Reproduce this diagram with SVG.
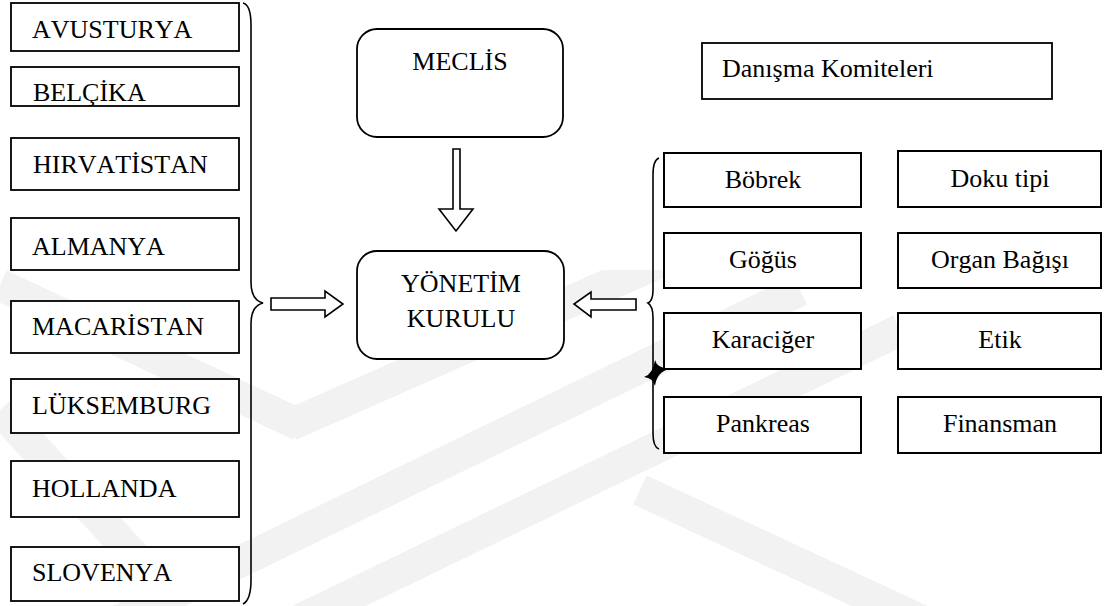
<svg xmlns="http://www.w3.org/2000/svg" width="1105" height="606" viewBox="0 0 1105 606">
<style>
.box{fill:#fff;stroke:#000;stroke-width:1.8}
.rbox{fill:#fff;stroke:#000;stroke-width:2}
.t{font-family:"Liberation Serif","Times New Roman",serif;font-size:26px;fill:#000;font-kerning:none}
.c{text-anchor:middle}
.arrow{fill:#fff;stroke:#000;stroke-width:1.6;stroke-linejoin:miter}
.brace{fill:none;stroke:#000;stroke-width:1.6}
.wm{stroke:#f2f2f2;stroke-width:32;fill:none}
</style>
<defs>
<clipPath id="wmclip"><rect x="0" y="270" width="1105" height="336"/></clipPath>
</defs>
<rect x="0" y="0" width="1105" height="606" fill="#fff"/>
<g id="watermark" clip-path="url(#wmclip)">
<line class="wm" x1="0" y1="285" x2="300" y2="425"/>
<line class="wm" x1="290" y1="425" x2="660" y2="262"/>
<line class="wm" x1="120" y1="620" x2="800" y2="290"/>
<line class="wm" x1="300" y1="620" x2="900" y2="330"/>
<line class="wm" x1="0" y1="410" x2="180" y2="606"/>
<line class="wm" x1="640" y1="490" x2="920" y2="620"/>
</g>
<g id="connectors">
<path class="brace" d="M243,3 Q251,5 251,25 L251,282 Q251,300 263,303 Q251,306 251,324 L251,580 Q251,600 243,604"/>
<path class="brace" d="M659,158 Q653,160 653,175 L653,290 Q653,301 648,303 Q653,306 653,318 L653,433 Q653,447 659,449"/>
<polygon class="arrow" points="271,298 325,298 325,291 343,304 325,317 325,310 271,310"/>
<polygon class="arrow" points="636,299 591,299 591,292 574,304 591,317 591,310 636,310"/>
<polygon class="arrow" points="453,149 460,149 460,209 473,209 456,231 439,209 453,209"/>
<path d="M655,360 Q657,368 669,369 Q657,372 655,386 Q653,378 644,377 Q653,374 655,360 Z" fill="#000"/>
</g>
<g id="n-avusturya"><rect class="box" x="11" y="3" width="228" height="48"/><text class="t" x="32" y="38">AVUSTURYA</text></g>
<g id="n-belcika"><rect class="box" x="11" y="67" width="228" height="39"/><text class="t" x="33" y="101">BELÇİKA</text></g>
<g id="n-hirvatistan"><rect class="box" x="11" y="138" width="228" height="52"/><text class="t" x="33" y="173">HIRVATİSTAN</text></g>
<g id="n-almanya"><rect class="box" x="11" y="218" width="228" height="52"/><text class="t" x="32" y="255">ALMANYA</text></g>
<g id="n-macaristan"><rect class="box" x="11" y="301" width="228" height="52"/><text class="t" x="32" y="335">MACARİSTAN</text></g>
<g id="n-luksemburg"><rect class="box" x="11" y="379" width="228" height="54"/><text class="t" x="32" y="414">LÜKSEMBURG</text></g>
<g id="n-hollanda"><rect class="box" x="11" y="461" width="228" height="56"/><text class="t" x="32" y="497">HOLLANDA</text></g>
<g id="n-slovenya"><rect class="box" x="11" y="547" width="228" height="54"/><text class="t" x="32" y="581">SLOVENYA</text></g>
<g id="n-meclis"><rect class="box" x="357" y="29" width="206" height="108" rx="20" ry="20"/><text class="t c" x="460" y="70">MECLİS</text></g>
<g id="n-yonetim"><rect class="box" x="357" y="251" width="207" height="108" rx="20" ry="20"/><text class="t c" x="461" y="292">YÖNETİM</text><text class="t c" x="461" y="327">KURULU</text></g>
<g id="n-danisma"><rect class="box" x="702" y="43" width="350" height="56"/><text class="t" x="722" y="77">Danışma Komiteleri</text></g>
<g id="n-bobrek"><rect class="rbox" x="664" y="153" width="197" height="54"/><text class="t c" x="763" y="188">Böbrek</text></g>
<g id="n-doku"><rect class="rbox" x="898" y="151" width="203" height="56"/><text class="t c" x="1000" y="187">Doku tipi</text></g>
<g id="n-gogus"><rect class="rbox" x="664" y="233" width="197" height="55"/><text class="t c" x="763" y="268">Göğüs</text></g>
<g id="n-organ"><rect class="rbox" x="898" y="233" width="203" height="55"/><text class="t c" x="1000" y="268">Organ Bağışı</text></g>
<g id="n-karaciger"><rect class="rbox" x="664" y="313" width="197" height="56"/><text class="t c" x="763" y="348">Karaciğer</text></g>
<g id="n-etik"><rect class="rbox" x="898" y="313" width="203" height="56"/><text class="t c" x="1000" y="348">Etik</text></g>
<g id="n-pankreas"><rect class="rbox" x="664" y="397" width="197" height="56"/><text class="t c" x="763" y="432">Pankreas</text></g>
<g id="n-finansman"><rect class="rbox" x="898" y="397" width="203" height="56"/><text class="t c" x="1000" y="432">Finansman</text></g>
</svg>
